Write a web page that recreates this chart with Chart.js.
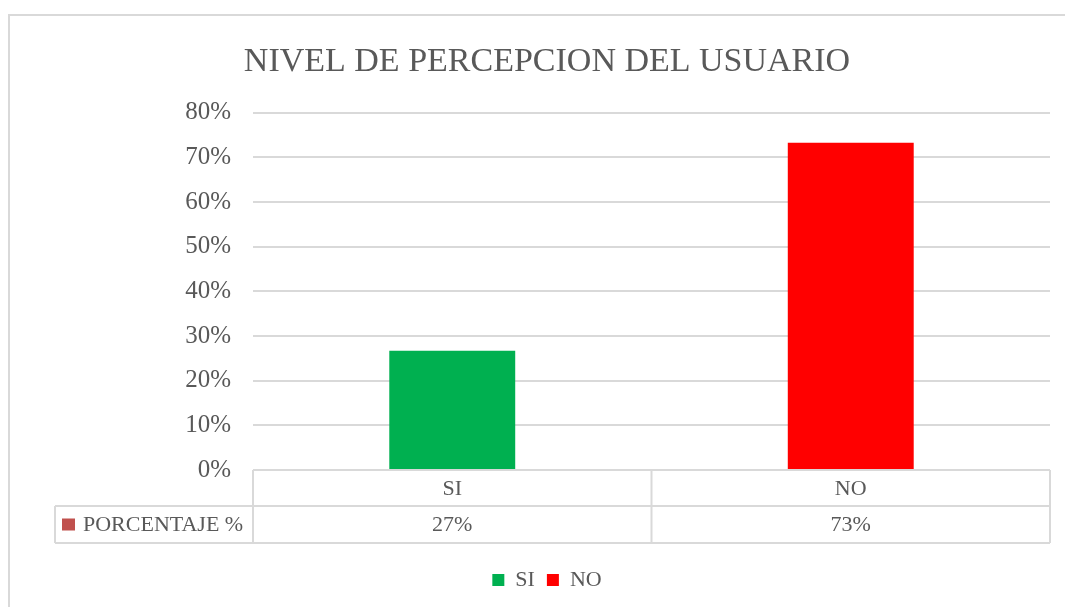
<!DOCTYPE html>
<html>
<head>
<meta charset="utf-8">
<script src="https://cdn.jsdelivr.net/npm/chart.js@4.4.1/dist/chart.umd.min.js"></script>
<style>
  html, body { margin: 0; padding: 0; background: #ffffff; }
  #wrap { width: 1065px; height: 607px; position: relative; }
</style>
</head>
<body>
<div id="wrap"><canvas id="c"></canvas></div>
<script>
// ---- data ----
const categories = ['SI', 'NO'];
const percentValues = [26.7, 73.3];
const barColors = ['#00B050', '#FF0000'];
const seriesName = 'PORCENTAJE %';
const seriesKeyColor = '#C0504D';
const yTickMax = 80;
const yTickStep = 10;
const chartTitle = 'NIVEL DE PERCEPCION DEL USUARIO';

const TEXT = '#595959';
const GRID = '#D9D9D9';
const FONT = "'Liberation Serif', 'Times New Roman', serif";

const framePlugin = {
  id: 'frame',
  beforeDraw(chart) {
    const ctx = chart.ctx;
    ctx.save();
    ctx.fillStyle = '#ffffff';
    ctx.fillRect(0, 0, chart.width, chart.height);
    ctx.strokeStyle = GRID;
    ctx.lineWidth = 2;
    ctx.strokeRect(9, 15, chart.width + 20, chart.height + 20);
    ctx.restore();
  }
};

const dataTablePlugin = {
  id: 'dataTable',
  afterDraw(chart) {
    const ctx = chart.ctx;
    const x = chart.scales.x;
    const area = chart.chartArea;
    const top = area.bottom;
    const mid = top + 36;
    const bottom = top + 73;
    const tableLeft = 55;
    const edges = [x.left];
    for (let i = 0; i < categories.length - 1; i++) {
      edges.push((x.getPixelForValue(i) + x.getPixelForValue(i + 1)) / 2);
    }
    edges.push(x.right);

    ctx.save();
    ctx.strokeStyle = GRID;
    ctx.lineWidth = 2;
    ctx.beginPath();
    ctx.moveTo(x.left, top); ctx.lineTo(x.right, top);
    ctx.moveTo(tableLeft, mid); ctx.lineTo(x.right, mid);
    ctx.moveTo(tableLeft, bottom); ctx.lineTo(x.right, bottom);
    ctx.moveTo(tableLeft, mid); ctx.lineTo(tableLeft, bottom);
    edges.forEach(e => { ctx.moveTo(e, top); ctx.lineTo(e, bottom); });
    ctx.stroke();

    ctx.fillStyle = TEXT;
    ctx.font = '22px ' + FONT;
    ctx.textAlign = 'center';
    ctx.textBaseline = 'middle';
    categories.forEach((c, i) => {
      const cx = x.getPixelForValue(i);
      ctx.fillText(c, cx, (top + mid) / 2 + 1);
      ctx.fillText(Math.round(percentValues[i]) + '%', cx, (mid + bottom) / 2 + 1);
    });
    ctx.fillStyle = seriesKeyColor;
    const rowC = (mid + bottom) / 2;
    ctx.fillRect(62, rowC - 6, 13, 12);
    ctx.fillStyle = TEXT;
    ctx.textAlign = 'left';
    ctx.fillText(seriesName, 83, rowC + 1);
    ctx.restore();
  }
};

new Chart(document.getElementById('c'), {
  type: 'bar',
  data: {
    labels: categories,
    datasets: [{
      label: seriesName,
      data: percentValues,
      backgroundColor: barColors,
      borderWidth: 0,
      barPercentage: 0.316,
      categoryPercentage: 1.0
    }]
  },
  options: {
    responsive: true,
    maintainAspectRatio: false,
    animation: false,
    devicePixelRatio: 1,
    layout: { padding: { left: 44, right: 15, top: 15, bottom: 6 } },
    plugins: {
      title: {
        display: true,
        text: chartTitle,
        color: TEXT,
        font: { family: FONT, size: 34, weight: 'normal', lineHeight: 1.2 },
        padding: { top: 27, bottom: 30 }
      },
      legend: {
        display: true,
        position: 'bottom',
        labels: {
          color: TEXT,
          font: { family: FONT, size: 22 },
          boxWidth: 12,
          boxHeight: 12,
          padding: 12,
          generateLabels(chart) {
            return categories.map((c, i) => ({
              text: c,
              fillStyle: barColors[i],
              strokeStyle: barColors[i],
              lineWidth: 0,
              fontColor: TEXT,
              hidden: false,
              index: i
            }));
          }
        },
        onClick() {}
      },
      tooltip: { enabled: false }
    },
    scales: {
      x: {
        ticks: { display: false },
        grid: { display: false, drawTicks: false },
        border: { display: false },
        afterFit(scale) { scale.height = 87; }
      },
      y: {
        min: 0,
        max: yTickMax,
        ticks: {
          stepSize: yTickStep,
          color: TEXT,
          font: { family: FONT, size: 25 },
          padding: 22,
          callback: v => v + '%'
        },
        grid: { color: GRID, lineWidth: 2, drawTicks: false },
        border: { display: false },
        afterFit(scale) { scale.width = 209; }
      }
    }
  },
  plugins: [framePlugin, dataTablePlugin]
});
</script>
</body>
</html>
